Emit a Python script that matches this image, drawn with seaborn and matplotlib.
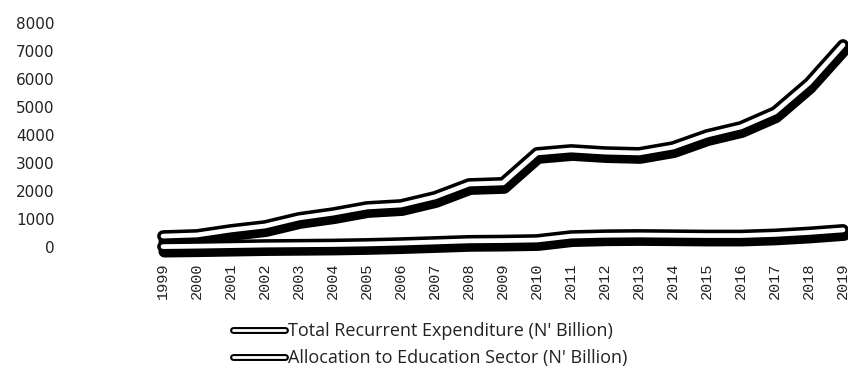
import matplotlib
matplotlib.use("Agg")
import matplotlib.pyplot as plt
import matplotlib.patheffects as pe
import pandas as pd
import seaborn as sns

years = list(range(1999, 2020))
total_recurrent = [400, 440, 620, 760, 1050, 1220, 1440, 1510, 1800, 2260, 2300,
                   3370, 3475, 3400, 3370, 3580, 4010, 4300, 4830, 5870, 7225]
education = [25, 40, 60, 80, 90, 100, 120, 150, 190, 230, 240,
             260, 400, 430, 440, 430, 420, 420, 460, 530, 620]
series_names = ["Total Recurrent Expenditure (N' Billion)",
                "Allocation to Education Sector (N' Billion)"]
y_ticks = [0, 1000, 2000, 3000, 4000, 5000, 6000, 7000, 8000]

df = pd.DataFrame({
    "Year": years * 2,
    "Value": total_recurrent + education,
    "Series": [series_names[0]] * len(years) + [series_names[1]] * len(years),
})

sns.set_theme(style="white")
fig = plt.figure(figsize=(8.48, 3.8), dpi=100)
ax = fig.add_axes([60 / 848, 1 - 247.3 / 380, 800 / 848, 224 / 380])

sns.lineplot(data=df, x="Year", y="Value", hue="Series",
             palette=["white", "white"], linewidth=3.4, ax=ax, legend=False,
             sort=False)

# tube look: black outline, white core and a solid drop shadow below
tube = [
    pe.SimpleLineShadow(offset=(1.0, -3.6), shadow_color="black", alpha=1.0,
                        rho=1.0, linewidth=8.5),
    pe.Stroke(linewidth=8.5, foreground="black"),
    pe.Normal(),
]
for line in ax.lines:
    line.set_path_effects(tube)
    line.set_solid_joinstyle("round")
    line.set_solid_capstyle("round")
    line.set_clip_on(False)

ax.set_xlim(years[0] - 3.03, years[-1] + 0.5)
ax.set_ylim(0, 8000)
ax.set_xticks(years)
ax.set_xticklabels([str(y) for y in years], rotation=90,
                   fontfamily="Liberation Mono", fontsize=11)
ax.set_yticks(y_ticks)
ax.set_yticklabels([str(v) for v in y_ticks], fontfamily="DejaVu Sans",
                   fontsize=11, color="#222222")
ax.tick_params(axis="x", length=0, pad=11, colors="#222222")
ax.tick_params(axis="y", length=0, pad=4)
ax.set_xlabel("")
ax.set_ylabel("")
for s in ax.spines.values():
    s.set_visible(False)

handles = [line for line in ax.lines]
for h, name in zip(handles, series_names):
    h.set_label(name)
leg = fig.legend(handles=handles, labels=series_names, loc="upper center",
                 bbox_to_anchor=(0.507, 1 - 306 / 380), ncol=1, frameon=False,
                 handlelength=2.9, handletextpad=0.15, labelspacing=0.5,
                 prop={"family": "Open Sans", "size": 13})
for h in leg.get_lines():
    h.set_linewidth(2.0)
    h.set_path_effects([pe.Stroke(linewidth=5.0, foreground="black"), pe.Normal()])
for t in leg.get_texts():
    t.set_color("#222222")

fig.savefig("out.png", dpi=100)
